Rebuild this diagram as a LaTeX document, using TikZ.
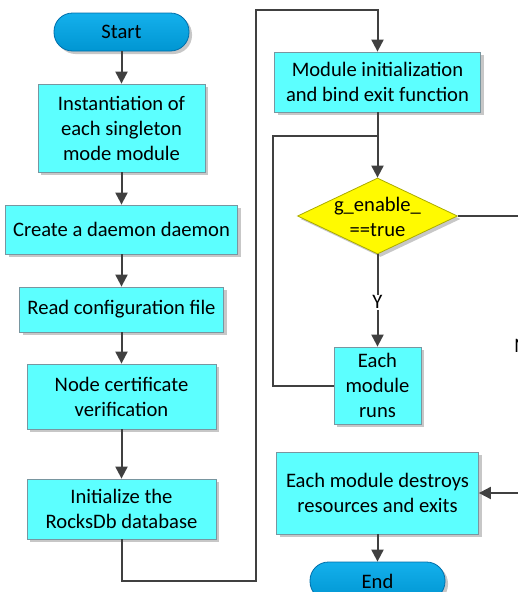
\documentclass[tikz,border=0pt]{standalone}
\usepackage{fontspec}
\setmainfont{Carlito}
\usetikzlibrary{arrows.meta,shadows,shapes.geometric,calc}
\definecolor{boxfill}{RGB}{92,255,255}
\definecolor{boxline}{RGB}{120,150,160}
\definecolor{termtop}{RGB}{20,176,236}
\definecolor{termbot}{RGB}{0,150,210}
\definecolor{termline}{RGB}{0,110,170}
\definecolor{decfill}{RGB}{255,250,0}
\definecolor{decline}{RGB}{170,170,0}
\definecolor{conn}{RGB}{64,64,64}
\tikzset{
  txt/.style={font=\fontsize{20.6}{25}\selectfont, align=center, text=black},
  shad/.style={drop shadow={shadow xshift=3pt, shadow yshift=-3pt, fill=black!22, opacity=1}},
  procbox/.style={txt, shape=rectangle, draw=boxline, line width=0.8pt, fill=boxfill, shad, inner sep=0pt},
  termbox/.style={txt, shape=rectangle, rounded corners=18.5pt, draw=termline, line width=0.8pt,
     top color=termtop, bottom color=termbot, shad, inner sep=0pt, minimum width=135pt, minimum height=38pt},
  decbox/.style={shape=diamond, draw=decline, line width=0.8pt, fill=decfill, shad, inner sep=0pt},
  arr/.style={draw=conn, line width=2pt, -{Triangle[length=12pt,width=12pt]}},
  ln/.style={draw=conn, line width=2pt},
  lbl/.style={txt, fill=white, inner sep=1pt}
}
\begin{document}
\begin{tikzpicture}[x=1pt,y=-1pt]
\useasboundingbox (0,0) rectangle (518,592);
% nodes
\node[termbox] (start) at (121.5,32) {Start};
\node[procbox, minimum width=167pt, minimum height=88pt] (b1) at (121.5,128) {Instantiation of\\each singleton\\mode module};
\node[procbox, minimum width=232pt, minimum height=49pt] (b2) at (121.5,229.5) {Create a daemon daemon};
\node[procbox, minimum width=204pt, minimum height=45pt] (b3) at (121.5,309.5) {Read configuration file};
\node[procbox, minimum width=189pt, minimum height=65pt] (b4) at (121.5,396.5) {Node certificate\\verification};
\node[procbox, minimum width=189pt, minimum height=60pt] (b5) at (121.5,509) {Initialize the\\RocksDb database};
\node[procbox, minimum width=206pt, minimum height=60pt] (b6) at (377.5,82) {Module initialization\\and bind exit function};
\node[decbox, minimum width=160pt, minimum height=76pt] (d) at (377.5,216) {};
\node[txt, inner sep=0pt] (dt) at (377.5,217) {g\_enable\_\\==true};
\node[procbox, minimum width=87pt, minimum height=77pt] (b7) at (377.5,385.5) {Each\\module\\runs};
\node[procbox, minimum width=202pt, minimum height=82pt] (b8) at (377.5,493) {Each module destroys\\resources and exits};
\node[termbox] (end) at (377.5,581) {End};
% helper coordinates
\coordinate (c1) at (256,581);
\coordinate (c2) at (256,10);
\coordinate (c3) at (273,136);
\coordinate (jn) at (377.5,136);
\coordinate (c4) at (521,216);
\coordinate (c5) at (521,493);
% connectors
\draw[arr] (start.south) -- (b1.north);
\draw[arr] (b1.south) -- (b2.north);
\draw[arr] (b2.south) -- (b3.north);
\draw[arr] (b3.south) -- (b4.north);
\draw[arr] (b4.south) -- (b5.north);
\draw[arr] (b5.south) |- (c1) -- (c2) -| (b6.north);
\draw[arr] (b6.south) -- (d.north);
\draw[arr] (d.south) -- node[lbl, pos=0.52] (ylab) {Y} (b7.north);
\draw[ln] (b7.west) -| (c3) -- (jn);
\draw[ln] (d.east) -- (c4) -- node[lbl, pos=0.47] (nlab) {N} (c5);
\draw[arr] (c5) -- (b8.east);
\draw[arr] (b8.south) -- (end.north);
\end{tikzpicture}
\end{document}
